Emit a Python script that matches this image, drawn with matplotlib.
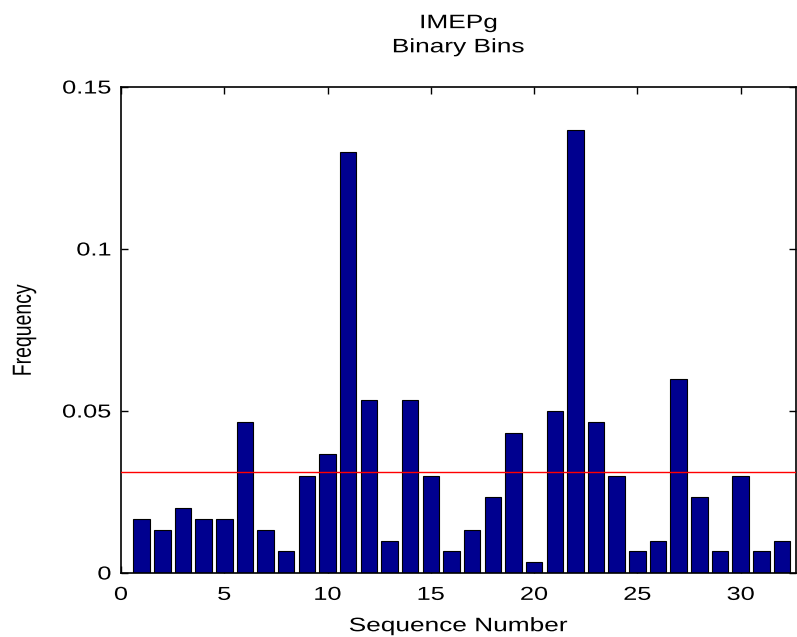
import matplotlib.pyplot as plt
import matplotlib.patheffects as pe
from matplotlib.transforms import Affine2D
import numpy as np

plt.rcParams['font.family'] = ['Liberation Sans', 'DejaVu Sans']

# bar heights (frequency per sequence number)
seq = np.arange(1, 33)
freq = [0.0167, 0.0133, 0.0200, 0.0167, 0.0167, 0.0467, 0.0133, 0.0067,
        0.0300, 0.0367, 0.1300, 0.0533, 0.0100, 0.0533, 0.0300, 0.0067,
        0.0133, 0.0233, 0.0433, 0.0033, 0.0500, 0.1367, 0.0467, 0.0300,
        0.0067, 0.0100, 0.0600, 0.0233, 0.0067, 0.0300, 0.0067, 0.0100]
mean_level = 0.03125   # red reference line (1/32)

x_ticks = [0, 5, 10, 15, 20, 25, 30]
y_ticks = [0, 0.05, 0.1, 0.15]
y_tick_labels = ['0', '0.05', '0.1', '0.15']


# the original export is stretched sideways, so widen the glyphs a bit
class Stretch(pe.AbstractPathEffect):
    def __init__(self, sx=1.0, sy=1.0, ax=0.5, ay=0.5):
        super().__init__()
        self.sx, self.sy, self.ax, self.ay = sx, sy, ax, ay

    def draw_path(self, renderer, gc, tpath, affine, rgbFace=None):
        ext = tpath.get_extents()
        cx = ext.x0 + self.ax * ext.width
        cy = ext.y0 + self.ay * ext.height
        t = Affine2D().translate(-cx, -cy).scale(self.sx, self.sy).translate(cx, cy) + affine
        renderer.draw_path(gc, tpath, t, rgbFace)


SX = 1.35

fig = plt.figure(figsize=(7.97, 6.37), dpi=100)
ax = fig.add_axes([0.1518, 0.1005, 0.8475, 0.7629])

ax.bar(seq, freq, width=0.8, color='#00008f', edgecolor='black', linewidth=0.8, zorder=2)
ax.axhline(mean_level, color='red', linewidth=1.0, zorder=3)

ax.set_xlim(0, 32.7)
ax.set_ylim(0, 0.15)
ax.set_xticks(x_ticks)
ax.set_yticks(y_ticks)
ax.set_yticklabels(y_tick_labels)

ax.tick_params(direction='in', length=5, width=1, top=True, right=True, labelsize=13.5)
ax.tick_params(axis='x', pad=10)
ax.tick_params(axis='y', pad=7)
for s in ax.spines.values():
    s.set_linewidth(1.2)

for lab in ax.get_xticklabels():
    lab.set_path_effects([Stretch(sx=SX)])
for lab in ax.get_yticklabels():
    lab.set_path_effects([Stretch(sx=SX, ax=1.0)])

xl = ax.set_xlabel('Sequence Number', fontsize=14)
ax.xaxis.set_label_coords(0.5, -0.093)
xl.set_path_effects([Stretch(sx=SX)])

yl = ax.set_ylabel('Frequency', fontsize=14)
ax.yaxis.set_label_coords(-0.13, 0.5)
yl.set_path_effects([Stretch(sy=SX)])

tt = ax.set_title('IMEPg\nBinary Bins', fontsize=14, pad=25, linespacing=1.55)
tt.set_path_effects([Stretch(sx=SX)])

fig.savefig('out.png', dpi=100)
